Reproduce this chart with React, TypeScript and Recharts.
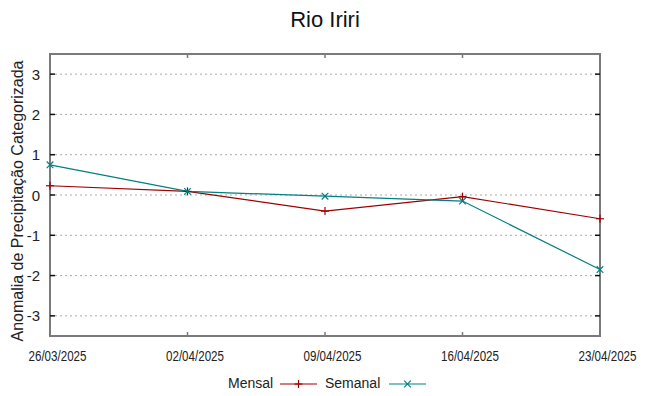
import React from "react";
import { LineChart, Line, XAxis, YAxis, CartesianGrid, ReferenceArea } from "recharts";

const dates = ["26/03/2025", "02/04/2025", "09/04/2025", "16/04/2025", "23/04/2025"];
const mensal = [0.23, 0.09, -0.4, -0.04, -0.59];
const semanal = [0.75, 0.09, -0.03, -0.15, -1.85];
const yTicks = [-3, -2, -1, 0, 1, 2, 3];

const data = dates.map((d, i) => ({ date: d, mensal: mensal[i], semanal: semanal[i] }));

const W = 649;
const H = 396;
const PL = 50;
const PR = 600;
const PT = 54;
const PB = 336;
const RED = "#a00000";
const TEAL = "#008080";
const BORDER = "#7a7a7a";
const FONT = "'Liberation Sans', Arial, sans-serif";

const Plus = ({ cx, cy, color }: any) => (
  <g>
    <line x1={cx - 4} x2={cx + 4} y1={cy} y2={cy} stroke={color} strokeWidth={1.2} />
    <line x1={cx} x2={cx} y1={cy - 4} y2={cy + 4} stroke={color} strokeWidth={1.2} />
  </g>
);
const Cross = ({ cx, cy, color }: any) => (
  <g>
    <line x1={cx - 3.3} x2={cx + 3.3} y1={cy - 3.3} y2={cy + 3.3} stroke={color} strokeWidth={1.2} />
    <line x1={cx - 3.3} x2={cx + 3.3} y1={cy + 3.3} y2={cy - 3.3} stroke={color} strokeWidth={1.2} />
  </g>
);

const YTick = (props: any) => {
  const { x, y, payload } = props;
  return (
    <g>
      <text x={x} y={y} dy={5.5} textAnchor="end" fontSize={15} fill="#222" fontFamily={FONT}>
        {payload.value}
      </text>
      <line x1={PL} x2={PL + 5} y1={y} y2={y} stroke="#111" strokeWidth={1.5} />
      <line x1={PR - 5} x2={PR} y1={y} y2={y} stroke="#111" strokeWidth={1.5} />
    </g>
  );
};

const XTick = (props: any) => {
  const { x, y, payload } = props;
  return (
    <g>
      <text
        x={x + 7.5}
        y={y + 25}
        textAnchor="middle"
        fontSize={14}
        fill="#222"
        fontFamily={FONT}
        textLength={58}
        lengthAdjust="spacingAndGlyphs"
      >
        {payload.value}
      </text>
      <line x1={x} x2={x} y1={PB} y2={PB - 4} stroke={BORDER} strokeWidth={1.5} />
      <line x1={x} x2={x} y1={PT} y2={PT + 4} stroke={BORDER} strokeWidth={1.5} />
    </g>
  );
};

export default function App() {
  return (
    <div style={{ position: "absolute", left: 0, top: 0, width: W, height: H, background: "#fff" }}>
      <LineChart width={W} height={H} data={data} margin={{ top: PT, right: W - PR, left: 0, bottom: 40 }}>
        <CartesianGrid horizontal vertical={false} stroke="#aaaaaa" strokeDasharray="2 3" />
        <XAxis
          dataKey="date"
          height={20}
          axisLine={false}
          tickLine={false}
          tickSize={0}
          tickMargin={0}
          interval={0}
          tick={<XTick />}
        />
        <YAxis
          width={PL}
          domain={[-3.5, 3.5]}
          ticks={yTicks}
          axisLine={false}
          tickLine={false}
          tickSize={0}
          tickMargin={10}
          tick={<YTick />}
        />
        <ReferenceArea
          x1={dates[0]}
          x2={dates[dates.length - 1]}
          y1={-3.5}
          y2={3.5}
          fill="none"
          fillOpacity={0}
          stroke={BORDER}
          strokeWidth={2}
        />
        <Line
          type="linear"
          dataKey="mensal"
          stroke={RED}
          strokeWidth={1.2}
          isAnimationActive={false}
          dot={(p: any) => <Plus key={"m" + p.index} cx={p.cx} cy={p.cy} color={RED} />}
          activeDot={false}
        />
        <Line
          type="linear"
          dataKey="semanal"
          stroke={TEAL}
          strokeWidth={1.2}
          isAnimationActive={false}
          dot={(p: any) => <Cross key={"s" + p.index} cx={p.cx} cy={p.cy} color={TEAL} />}
          activeDot={false}
        />
      </LineChart>
      <svg width={W} height={H} style={{ position: "absolute", left: 0, top: 0, pointerEvents: "none" }}>
        <text x={325} y={27} textAnchor="middle" fontSize={22} fill="#111" fontFamily={FONT}>
          Rio Iriri
        </text>
        <text
          x={23}
          y={201}
          transform="rotate(-90 23 201)"
          textAnchor="middle"
          fontSize={16}
          fill="#222"
          fontFamily={FONT}
        >
          Anomalia de Precipitação Categorizada
        </text>
        <text x={228} y={388} fontSize={14} fill="#222" fontFamily={FONT}>
          Mensal
        </text>
        <line x1={280} x2={317} y1={384} y2={384} stroke={RED} strokeWidth={1.2} />
        <Plus cx={298.5} cy={384} color={RED} />
        <text x={325} y={388} fontSize={14} fill="#222" fontFamily={FONT}>
          Semanal
        </text>
        <line x1={389} x2={426} y1={384} y2={384} stroke={TEAL} strokeWidth={1.2} />
        <Cross cx={407.5} cy={384} color={TEAL} />
      </svg>
    </div>
  );
}
